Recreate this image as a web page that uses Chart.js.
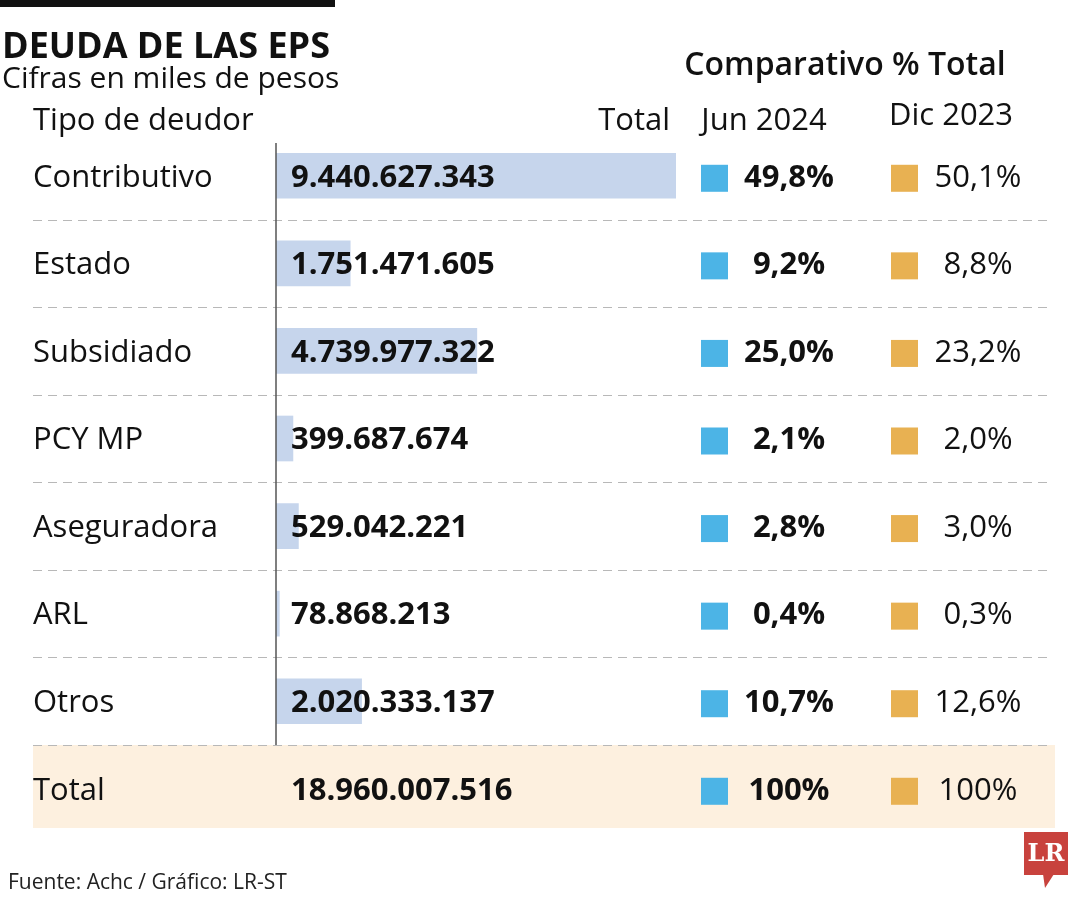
<!DOCTYPE html>
<html>
<head>
<meta charset="utf-8">
<script src="https://cdn.jsdelivr.net/npm/chart.js@4/dist/chart.umd.min.js"></script>
<style>
  html, body { margin: 0; padding: 0; background: #fff; }
  #chart { display: block; }
</style>
</head>
<body>
<canvas id="chart" width="1080" height="900"></canvas>
<script>
// datos (miles de pesos)
const categories = ['Contributivo', 'Estado', 'Subsidiado', 'PCY MP', 'Aseguradora', 'ARL', 'Otros'];
const totals = [9440627343, 1751471605, 4739977322, 399687674, 529042221, 78868213, 2020333137];
const jun2024 = [49.8, 9.2, 25.0, 2.1, 2.8, 0.4, 10.7];
const dic2023 = [50.1, 8.8, 23.2, 2.0, 3.0, 0.3, 12.6];
const grandTotal = 18960007516;
const totalPct = ['100%', '100%'];

const FONT = '"Open Sans", "Noto Sans", sans-serif';

function fmtNum(n) {
  return String(n).replace(/\B(?=(\d{3})+(?!\d))/g, '.');
}
function fmtPct(p) {
  return p.toFixed(1).replace('.', ',') + '%';
}

const tablePlugin = {
  id: 'table',
  beforeDraw(chart) {
    const ctx = chart.ctx;
    const area = chart.chartArea;
    const band = (area.bottom - area.top) / categories.length;
    ctx.save();
    ctx.fillStyle = '#fff';
    ctx.fillRect(0, 0, chart.width, chart.height);
    // fondo fila total
    ctx.fillStyle = '#fdf0df';
    ctx.fillRect(33, area.bottom, 1022, 83);
    // separadores
    ctx.strokeStyle = '#b8b8b8';
    ctx.lineWidth = 1;
    ctx.setLineDash([9, 6]);
    for (let k = 1; k <= categories.length; k++) {
      const y = Math.round(area.top + k * band) + 0.5;
      ctx.beginPath();
      ctx.moveTo(33, y);
      ctx.lineTo(1047, y);
      ctx.stroke();
    }
    ctx.restore();
  },
  afterDraw(chart) {
    const ctx = chart.ctx;
    const area = chart.chartArea;
    const yScale = chart.scales.y;
    const band = (area.bottom - area.top) / categories.length;
    ctx.save();

    // eje
    ctx.strokeStyle = '#555';
    ctx.lineWidth = 1.5;
    ctx.beginPath();
    ctx.moveTo(area.left, 143);
    ctx.lineTo(area.left, area.bottom);
    ctx.stroke();

    // barra superior
    ctx.fillStyle = '#111';
    ctx.fillRect(0, 0, 335, 7);

    ctx.fillStyle = '#111';
    ctx.textBaseline = 'alphabetic';
    ctx.textAlign = 'left';
    ctx.font = 'bold 36px ' + FONT;
    ctx.fillText('DEUDA DE LAS EPS', 2, 58);
    ctx.font = '30px ' + FONT;
    ctx.fillText('Cifras en miles de pesos', 2, 88);
    ctx.font = '31px ' + FONT;
    ctx.fillText('Tipo de deudor', 33, 130);
    ctx.textAlign = 'right';
    ctx.fillText('Total', 670, 130);
    ctx.textAlign = 'center';
    ctx.fillText('Jun 2024', 764, 130);
    ctx.fillText('Dic 2023', 951, 125);
    ctx.font = '600 32px ' + FONT;
    ctx.fillText('Comparativo % Total', 845, 75);

    const rowText = (y, label, value, p1, p2) => {
      ctx.textBaseline = 'middle';
      ctx.textAlign = 'left';
      ctx.fillStyle = '#111';
      ctx.font = '31px ' + FONT;
      ctx.fillText(label, 33, y);
      ctx.font = 'bold 31px ' + FONT;
      ctx.fillText(value, 291, y);
      ctx.fillStyle = '#4cb4e6';
      ctx.fillRect(701, y - 13, 27, 27);
      ctx.fillStyle = '#e8b152';
      ctx.fillRect(891, y - 13, 27, 27);
      ctx.fillStyle = '#111';
      ctx.textAlign = 'center';
      ctx.font = 'bold 31px ' + FONT;
      ctx.fillText(p1, 789, y);
      ctx.font = '31px ' + FONT;
      ctx.fillText(p2, 978, y);
    };

    categories.forEach((c, i) => {
      const y = yScale.getPixelForValue(i) + 2;
      rowText(y, c, fmtNum(totals[i]), fmtPct(jun2024[i]), fmtPct(dic2023[i]));
    });
    const yTot = yScale.getPixelForValue(categories.length - 1) + band + 2;
    rowText(yTot, 'Total', fmtNum(grandTotal), totalPct[0], totalPct[1]);

    // fuente
    ctx.textAlign = 'left';
    ctx.textBaseline = 'alphabetic';
    ctx.fillStyle = '#222';
    ctx.font = '21px ' + FONT;
    ctx.fillText('Fuente: Achc / Gráfico: LR-ST', 8, 889);

    // logo LR
    ctx.fillStyle = '#c8423d';
    ctx.fillRect(1024, 832, 44, 43);
    ctx.beginPath();
    ctx.moveTo(1043, 874);
    ctx.lineTo(1054, 874);
    ctx.lineTo(1045, 888);
    ctx.closePath();
    ctx.fill();
    ctx.fillStyle = '#fff';
    ctx.textAlign = 'center';
    ctx.textBaseline = 'middle';
    ctx.font = 'bold 24px "DejaVu Serif", "Liberation Serif", serif';
    ctx.fillText('LR', 1046, 855);

    ctx.restore();
  }
};

new Chart(document.getElementById('chart'), {
  type: 'bar',
  data: {
    labels: categories,
    datasets: [{
      data: totals,
      backgroundColor: '#c6d5ec',
      borderWidth: 0,
      barThickness: 45
    }]
  },
  options: {
    indexAxis: 'y',
    responsive: false,
    animation: false,
    layout: { padding: { left: 276, right: 404, top: 132, bottom: 155 } },
    scales: {
      x: { display: false, min: 0, max: Math.max(...totals) },
      y: { display: false }
    },
    plugins: {
      legend: { display: false },
      tooltip: { enabled: false }
    }
  },
  plugins: [tablePlugin]
});
</script>
</body>
</html>
